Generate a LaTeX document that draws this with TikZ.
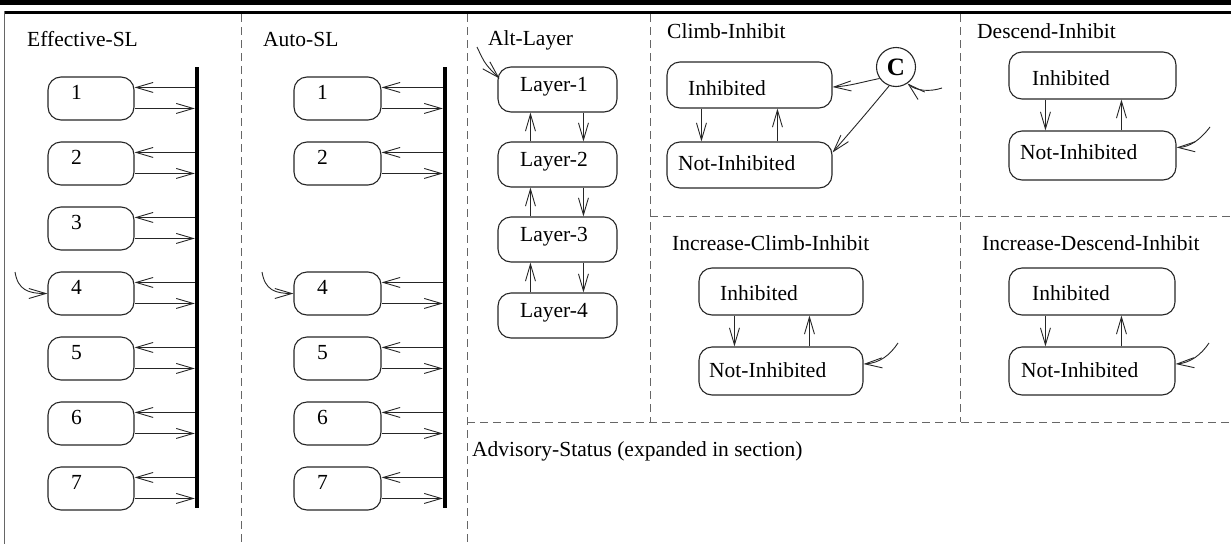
\documentclass[tikz,border=0pt]{standalone}
\usepackage{fontspec}
\setmainfont{Liberation Serif}
\usetikzlibrary{arrows.meta,calc}
\begin{document}
\begin{tikzpicture}[x=1pt,y=-1pt,
  font=\fontsize{21.5}{25}\selectfont,
  st/.style={draw=black!85, line width=1.1pt, rounded corners=13pt, inner sep=0pt},
  arr/.style={draw=black!85, line width=0.9pt, -{Straight Barb[length=17pt,width=10pt]}},
  dsh/.style={draw=black!60, line width=1pt, dash pattern=on 8pt off 5pt},
  bar/.style={fill=black, draw=none, inner sep=0pt, minimum width=4pt},
  txt/.style={anchor=base west, inner sep=0pt}]
\useasboundingbox (0,0) rectangle (1231,544);
% frame
\fill[black] (0,0) rectangle (1231,5);
\draw[line width=3.5pt] (4,12.5) -- (1231,12.5);
\draw[black!60, line width=1.5pt] (4.5,11) -- (4.5,544);
% dashed separators
\draw[dsh] (241,14) -- (241,544);
\draw[dsh] (467,14) -- (467,544);
\draw[dsh] (650,14) -- (650,422);
\draw[dsh] (960,14) -- (960,422);
\draw[dsh] (650,216) -- (1231,216);
\draw[dsh] (467,422) -- (1231,422);

% Effective-SL
\node[txt] (tEff) at (27,46.5) {Effective-SL};
\node[bar, minimum height=441pt] (ebar) at (197,287.5) {};
\foreach \k/\T in {1/77,2/142,3/207,4/272,5/337,6/402,7/467}{
  \node[st, minimum width=86pt, minimum height=43pt] (e\k) at (91,\T+21.5) {};
  \node[txt] (te\k) at (71,\T+22) {\k};
  \coordinate (eu\k) at ($(e\k.north east)+(0,11)$);
  \coordinate (ed\k) at ($(e\k.north east)+(0,32)$);
  \draw[arr] (ebar.west |- eu\k) -- (eu\k);
  \draw[arr] (ed\k) -- (ebar.west |- ed\k);
}
\coordinate (ei) at (15,272);
\draw[arr] (ei) .. controls (18,290) and (28,293.5) .. (e4.west);

% Auto-SL
\node[txt] (tAuto) at (263,46.5) {Auto-SL};
\node[bar, minimum height=441pt] (abar) at (445,287.5) {};
\foreach \k/\T in {1/77,2/142,4/272,5/337,6/402,7/467}{
  \node[st, minimum width=87pt, minimum height=43pt] (a\k) at (337.5,\T+21.5) {};
  \node[txt] (ta\k) at (317,\T+22) {\k};
  \coordinate (au\k) at ($(a\k.north east)+(0,11)$);
  \coordinate (ad\k) at ($(a\k.north east)+(0,32)$);
  \draw[arr] (abar.west |- au\k) -- (au\k);
  \draw[arr] (ad\k) -- (abar.west |- ad\k);
}
\coordinate (ai) at (262,272);
\draw[arr] (ai) .. controls (265,290) and (275,293.5) .. (a4.west);

% Alt-Layer
\node[txt] (tAlt) at (488,45) {Alt-Layer};
\foreach \k/\T in {1/67,2/142,3/217,4/293}{
  \node[st, minimum width=119pt, minimum height=45pt] (l\k) at (557.5,\T+22.5) {};
  \node[txt] (tl\k) at (520,\T+24.5) {Layer-\k};
}
\foreach \a/\b in {1/2,2/3,3/4}{
  \draw[arr] ($(l\b.north west)+(33,0)$) -- ($(l\a.south west)+(33,0)$);
  \draw[arr] ($(l\a.south west)+(86,0)$) -- ($(l\b.north west)+(86,0)$);
}
\coordinate (li) at (477,47);
\draw[arr] (li) .. controls (485,64) .. ($(l1.west)+(2,-11)$);

% Climb-Inhibit
\node[txt] (tCl) at (667,38) {Climb-Inhibit};
\node[st, minimum width=165pt, minimum height=46pt] (ci1) at (749.5,85) {};
\node[st, minimum width=165pt, minimum height=46pt] (ci2) at (749.5,165) {};
\node[txt] (tci1) at (688,95) {Inhibited};
\node[txt] (tci2) at (678,170) {Not-Inhibited};
\draw[arr] ($(ci1.south west)+(35,0)$) -- ($(ci2.north west)+(35,0)$);
\draw[arr] ($(ci2.north west)+(111,0)$) -- ($(ci1.south west)+(111,0)$);
\node[circle, draw=black!85, line width=1.1pt, minimum size=39pt, inner sep=0pt,
  font=\fontsize{25}{28}\selectfont\bfseries] (cc) at (896,67) {C};
\draw[arr] (cc.215) .. controls (862,82) and (850,86) .. ($(ci1.east)+(0,2)$);
\draw[arr] (cc.250) .. controls (864,116) .. ($(ci2.north east)+(0,11)$);
\coordinate (cci) at (942,88);
\draw[arr] (cci) .. controls (930,92) and (916,91) .. (cc.-55);

% Descend-Inhibit
\node[txt] (tDe) at (977,38) {Descend-Inhibit};
\node[st, minimum width=167pt, minimum height=47pt] (de1) at (1092.5,75.5) {};
\node[st, minimum width=167pt, minimum height=49pt] (de2) at (1092.5,155.5) {};
\node[txt] (tde1) at (1032,85) {Inhibited};
\node[txt] (tde2) at (1020,159) {Not-Inhibited};
\draw[arr] ($(de1.south west)+(37,0)$) -- ($(de2.north west)+(37,0)$);
\draw[arr] ($(de2.north west)+(113,0)$) -- ($(de1.south west)+(113,0)$);
\coordinate (dei) at (1210,127);
\draw[arr] (dei) .. controls (1200,140) and (1190,147) .. ($(de2.east)+(0,-8)$);

% Increase-Climb-Inhibit
\node[txt] (tIC) at (672,250) {Increase-Climb-Inhibit};
\node[st, minimum width=164pt, minimum height=47pt] (ic1) at (781,291.5) {};
\node[st, minimum width=164pt, minimum height=48pt] (ic2) at (781,371) {};
\node[txt] (tic1) at (720,300) {Inhibited};
\node[txt] (tic2) at (709,377) {Not-Inhibited};
\draw[arr] ($(ic1.south west)+(36,0)$) -- ($(ic2.north west)+(36,0)$);
\draw[arr] ($(ic2.north west)+(111,0)$) -- ($(ic1.south west)+(111,0)$);
\coordinate (ici) at (898,343);
\draw[arr] (ici) .. controls (890,355) and (880,363) .. ($(ic2.east)+(0,-7)$);

% Increase-Descend-Inhibit
\node[txt] (tID) at (982,250) {Increase-Descend-Inhibit};
\node[st, minimum width=166pt, minimum height=47pt] (id1) at (1092,291.5) {};
\node[st, minimum width=166pt, minimum height=48pt] (id2) at (1092,371) {};
\node[txt] (tid1) at (1032,300) {Inhibited};
\node[txt] (tid2) at (1021,377) {Not-Inhibited};
\draw[arr] ($(id1.south west)+(37,0)$) -- ($(id2.north west)+(37,0)$);
\draw[arr] ($(id2.north west)+(113,0)$) -- ($(id1.south west)+(113,0)$);
\coordinate (idi) at (1209,343);
\draw[arr] (idi) .. controls (1201,355) and (1190,363) .. ($(id2.east)+(0,-7)$);

% Advisory-Status
\node[txt] (tAdv) at (472,456) {Advisory-Status (expanded in section)};
\end{tikzpicture}
\end{document}
